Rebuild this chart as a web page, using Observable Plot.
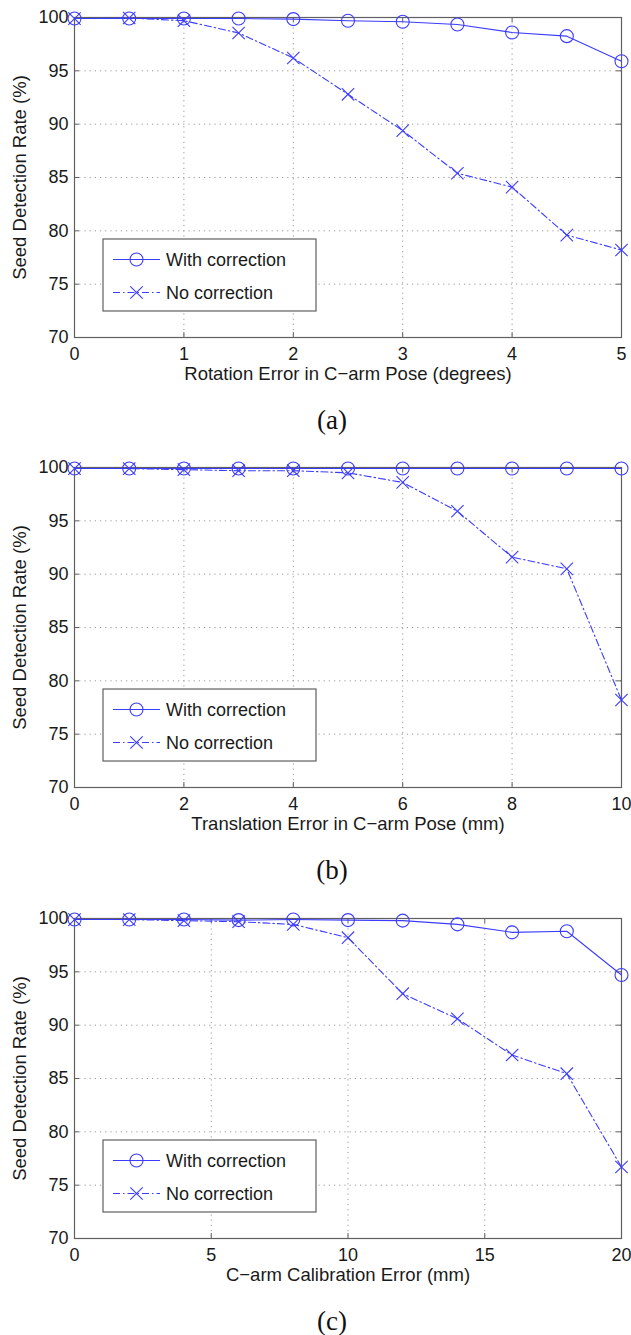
<!DOCTYPE html>
<html>
<head>
<meta charset="utf-8">
<script src="https://cdn.jsdelivr.net/npm/d3@7"></script>
<script src="https://cdn.jsdelivr.net/npm/@observablehq/plot@0.6"></script>
<style>
  html, body { margin: 0; padding: 0; background: #fff; }
  #root { position: relative; width: 631px; height: 1335px; overflow: hidden; background: #fff; }
  .panel { position: absolute; left: 0; width: 631px; }
  .cap { position: absolute; left: 0; width: 664px; text-align: center; font-family: "Liberation Serif", "Times New Roman", serif; font-size: 27px; line-height: 30px; color: #111; }
</style>
</head>
<body>
<div id="root"></div>
<script>
// ---- data ----
const rateTicks = [70, 75, 80, 85, 90, 95, 100];
const seriesNames = ["With correction", "No correction"];
const yTitle = "Seed Detection Rate (%)";

const rotX = [0, 0.5, 1, 1.5, 2, 2.5, 3, 3.5, 4, 4.5, 5];
const rotWith = [99.9, 99.9, 99.9, 99.9, 99.85, 99.7, 99.6, 99.35, 98.6, 98.25, 95.9];
const rotNo = [99.9, 99.95, 99.7, 98.55, 96.2, 92.8, 89.4, 85.4, 84.1, 79.6, 78.2];
const rotTicks = [0, 1, 2, 3, 4, 5];
const rotTitle = "Rotation Error in C\u2212arm Pose (degrees)";

const transX = [0, 1, 2, 3, 4, 5, 6, 7, 8, 9, 10];
const transWith = [99.9, 99.9, 99.9, 99.9, 99.9, 99.9, 99.9, 99.9, 99.9, 99.9, 99.9];
const transNo = [99.9, 99.9, 99.8, 99.7, 99.7, 99.5, 98.6, 95.9, 91.6, 90.5, 78.2];
const transTicks = [0, 2, 4, 6, 8, 10];
const transTitle = "Translation Error in C\u2212arm Pose (mm)";

const calibX = [0, 2, 4, 6, 8, 10, 12, 14, 16, 18, 20];
const calibWith = [99.9, 99.9, 99.9, 99.85, 99.9, 99.85, 99.8, 99.45, 98.7, 98.8, 94.7];
const calibNo = [99.9, 99.9, 99.8, 99.7, 99.45, 98.2, 92.95, 90.6, 87.2, 85.45, 76.7];
const calibTicks = [0, 5, 10, 15, 20];
const calibTitle = "C\u2212arm Calibration Error (mm)";

const captions = ["(a)", "(b)", "(c)"];

// ---- layout / style ----
const W = 631, H = 387, mL = 74, mR = 10, mT = 17, mB = 50;
const pw = W - mL - mR, ph = H - mT - mB;
const blue = "#3c3cff";
const frameColor = "#606060";
const gridColor = "#9a9a9a";
const font = "'Liberation Sans', Arial, Helvetica, sans-serif";
const dashDot = "7,3,1.5,3";

function panel(xs, withV, noV, xTicks, xTitle) {
  const dWith = xs.map((x, i) => ({x, y: withV[i]}));
  const dNo = xs.map((x, i) => ({x, y: noV[i]}));
  const xDom = [xTicks[0], xTicks[xTicks.length - 1]];
  const innerX = xTicks.slice(1, -1);
  const innerY = rateTicks.slice(1, -1);
  const svg = Plot.plot({
    width: W, height: H,
    marginLeft: mL, marginRight: mR, marginTop: mT, marginBottom: mB,
    style: {fontFamily: font, fontSize: "18px", background: "#fff", color: "#1a1a1a", overflow: "visible"},
    x: {domain: xDom, ticks: xTicks, label: null},
    y: {domain: [70, 100], ticks: rateTicks, label: null},
    marks: [
      Plot.gridX(innerX, {stroke: gridColor, strokeOpacity: 1, strokeDasharray: "1.2,4"}),
      Plot.gridY(innerY, {stroke: gridColor, strokeOpacity: 1, strokeDasharray: "1.2,4"}),
      Plot.tickX(xTicks, {x: d => d, insetTop: ph - 5, stroke: frameColor}),
      Plot.tickX(xTicks, {x: d => d, insetBottom: ph - 5, stroke: frameColor}),
      Plot.tickY(rateTicks, {y: d => d, insetRight: pw - 5, stroke: frameColor}),
      Plot.tickY(rateTicks, {y: d => d, insetLeft: pw - 5, stroke: frameColor}),
      Plot.frame({stroke: frameColor, strokeWidth: 1.2}),
      Plot.axisX(xTicks, {tickSize: 0, tickPadding: 10, label: null, fontSize: 18}),
      Plot.axisY(rateTicks, {tickSize: 0, tickPadding: 6, label: null, fontSize: 18}),
      Plot.text([xTitle], {text: d => d, frameAnchor: "bottom", textAnchor: "middle", dy: 37, lineAnchor: "middle", fontSize: 18.5}),
      Plot.text([yTitle], {text: d => d, frameAnchor: "left", textAnchor: "middle", rotate: -90, dx: -54, lineAnchor: "middle", fontSize: 18.5}),
      Plot.line(dWith, {x: "x", y: "y", stroke: blue, strokeWidth: 1.1}),
      Plot.line(dNo, {x: "x", y: "y", stroke: blue, strokeWidth: 1.1, strokeDasharray: dashDot}),
      Plot.dot(dWith, {x: "x", y: "y", r: 6.5, stroke: blue, fill: "none", strokeWidth: 1.1}),
      Plot.dot(dNo, {x: "x", y: "y", symbol: "times", r: 5.7, stroke: blue, strokeWidth: 1.1})
    ]
  });
  // in-plot legend (placed relative to the plot frame)
  const lx = mL + 29, ly = mT + ph - 26 - 72, lw = 213, lh = 72;
  const g = d3.select(svg).append("g")
    .attr("font-family", font).attr("font-size", 18).attr("text-anchor", "start");
  g.append("rect").attr("x", lx).attr("y", ly).attr("width", lw).attr("height", lh)
    .attr("fill", "#fff").attr("stroke", frameColor).attr("stroke-width", 1.2);
  const rows = [20.5, 53.5];
  seriesNames.forEach((name, i) => {
    const cy = ly + rows[i];
    const ln = g.append("line").attr("x1", lx + 10).attr("x2", lx + 57).attr("y1", cy).attr("y2", cy)
      .attr("stroke", blue).attr("stroke-width", 1.1);
    if (i === 1) ln.attr("stroke-dasharray", dashDot);
    if (i === 0) {
      g.append("circle").attr("cx", lx + 33.5).attr("cy", cy).attr("r", 6.5)
        .attr("fill", "none").attr("stroke", blue).attr("stroke-width", 1.1);
    } else {
      g.append("path").attr("d", d3.symbol(d3.symbolTimes, 5.7 * 5.7 * Math.PI)())
        .attr("transform", `translate(${lx + 33.5},${cy})`)
        .attr("fill", "none").attr("stroke", blue).attr("stroke-width", 1.1);
    }
    g.append("text").attr("x", lx + 63).attr("y", cy).attr("dy", "0.35em")
      .attr("text-anchor", "start").attr("fill", "#1a1a1a").text(name);
  });
  return svg;
}

const root = document.getElementById("root");
const specs = [
  [rotX, rotWith, rotNo, rotTicks, rotTitle],
  [transX, transWith, transNo, transTicks, transTitle],
  [calibX, calibWith, calibNo, calibTicks, calibTitle]
];
const tops = [0, 450, 901];
specs.forEach((s, i) => {
  const div = document.createElement("div");
  div.className = "panel";
  div.style.top = tops[i] + "px";
  div.appendChild(panel(...s));
  root.appendChild(div);
  const cap = document.createElement("div");
  cap.className = "cap";
  cap.style.top = (tops[i] + 420 - 15) + "px";
  cap.textContent = captions[i];
  root.appendChild(cap);
});
</script>
</body>
</html>
